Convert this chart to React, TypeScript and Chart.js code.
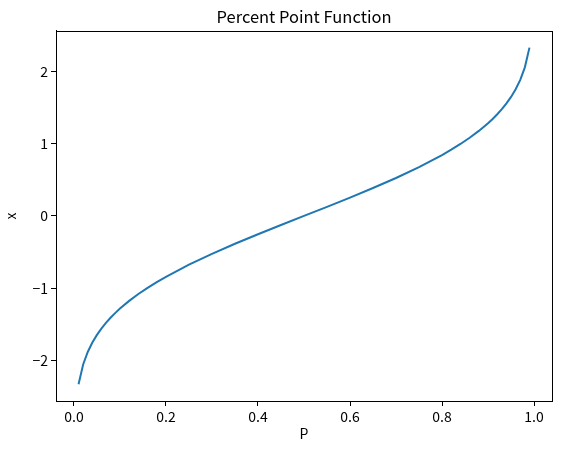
import React, { useEffect, useRef } from "react";
import { Chart, registerables } from "chart.js";

Chart.register(...registerables);

const pValues = [
  0.01, 0.02, 0.03, 0.04, 0.05, 0.06, 0.07, 0.08, 0.09, 0.10,
  0.12, 0.14, 0.16, 0.18, 0.20, 0.25, 0.30, 0.35, 0.40, 0.45,
  0.50, 0.55, 0.60, 0.65, 0.70, 0.75, 0.80, 0.82, 0.84, 0.86,
  0.88, 0.90, 0.91, 0.92, 0.93, 0.94, 0.95, 0.96, 0.97, 0.98, 0.99,
];
const xValues = [
  -2.3263, -2.0537, -1.8808, -1.7507, -1.6449, -1.5548, -1.4758, -1.4051, -1.3408, -1.2816,
  -1.175, -1.0803, -0.9945, -0.9154, -0.8416, -0.6745, -0.5244, -0.3853, -0.2533, -0.1257,
  0.0, 0.1257, 0.2533, 0.3853, 0.5244, 0.6745, 0.8416, 0.9154, 0.9945, 1.0803,
  1.175, 1.2816, 1.3408, 1.4051, 1.4758, 1.5548, 1.6449, 1.7507, 1.8808, 2.0537, 2.3263,
];
const xTicks = [0.0, 0.2, 0.4, 0.6, 0.8, 1.0];
const yTicks = [-2, -1, 0, 1, 2];

const FONT = "'Noto Sans CJK JP', 'DejaVu Sans', sans-serif";

const frame = {
  id: "frame",
  afterDraw(chart: any) {
    const { ctx, chartArea } = chart;
    ctx.save();
    ctx.strokeStyle = "#000";
    ctx.lineWidth = 1;
    ctx.strokeRect(
      Math.round(chartArea.left) + 0.5,
      Math.round(chartArea.top) + 0.5,
      Math.round(chartArea.right - chartArea.left),
      Math.round(chartArea.bottom - chartArea.top)
    );
    ctx.restore();
  },
};

export default function App() {
  const ref = useRef<HTMLCanvasElement>(null);
  useEffect(() => {
    document.body.style.margin = "0";
    const chart = new Chart(ref.current!, {
      type: "scatter",
      data: {
        datasets: [
          {
            data: pValues.map((p, i) => ({ x: p, y: xValues[i] })),
            showLine: true,
            borderColor: "#1f77b4",
            borderWidth: 2,
            pointRadius: 0,
            tension: 0,
          },
        ],
      },
      options: {
        responsive: false,
        animation: false,
        layout: { padding: { left: 0, right: 10, top: 0, bottom: 0 } },
        plugins: {
          legend: { display: false },
          tooltip: { enabled: false },
          title: {
            display: true,
            text: "Percent Point Function",
            fullSize: false,
            color: "#000",
            font: { family: FONT, size: 16.5, weight: "normal" },
            padding: { top: 7, bottom: 4 },
          },
        },
        scales: {
          x: {
            type: "linear",
            min: -0.039,
            max: 1.039,
            afterFit: (s: any) => {
              s.height = 51;
            },
            afterBuildTicks: (s: any) => {
              s.ticks = xTicks.map((v) => ({ value: v }));
            },
            ticks: {
              color: "#000",
              font: { family: FONT, size: 14 },
              padding: 2,
              maxRotation: 0,
              callback: (v: any) => Number(v).toFixed(1),
            },
            grid: {
              drawOnChartArea: false,
              drawTicks: true,
              tickLength: 5,
              color: "#000",
            },
            border: { display: true, color: "#000" },
            title: {
              display: true,
              text: "P",
              color: "#000",
              font: { family: FONT, size: 14 },
              padding: { top: 0, bottom: 10 },
            },
          },
          y: {
            type: "linear",
            min: -2.559,
            max: 2.559,
            afterFit: (s: any) => {
              s.width = 56;
            },
            afterBuildTicks: (s: any) => {
              s.ticks = yTicks.map((v) => ({ value: v }));
            },
            ticks: {
              color: "#000",
              font: { family: FONT, size: 14 },
              padding: 3,
              callback: (v: any) => (Number(v) < 0 ? "\u2212" + Math.abs(Number(v)) : String(v)),
            },
            grid: {
              drawOnChartArea: false,
              drawTicks: true,
              tickLength: 5,
              color: "#000",
            },
            border: { display: true, color: "#000" },
            title: {
              display: true,
              text: "x",
              color: "#000",
              font: { family: FONT, size: 14 },
              padding: { top: 2, bottom: 0 },
            },
          },
        },
      },
      plugins: [frame],
    });
    return () => chart.destroy();
  }, []);
  return (
    <div style={{ position: "fixed", left: 0, top: 0, width: 562, height: 452, background: "#fff" }}>
      <canvas ref={ref} width={562} height={452} />
    </div>
  );
}
